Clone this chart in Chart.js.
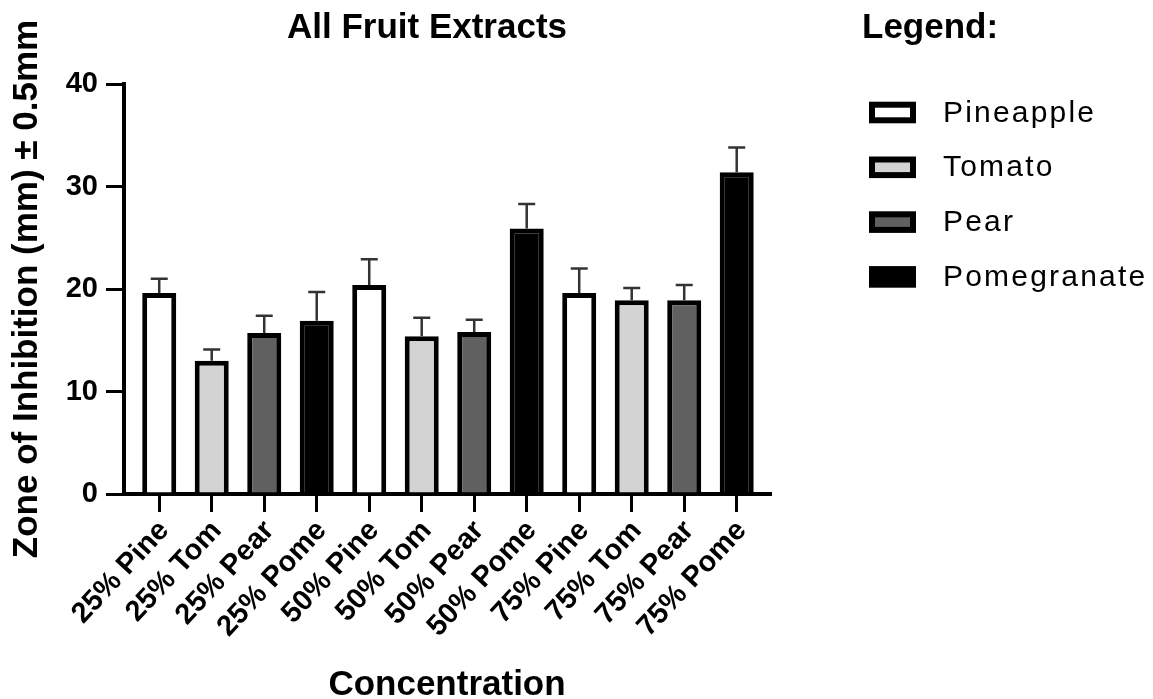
<!DOCTYPE html>
<html><head><meta charset="utf-8">
<script src="https://cdn.jsdelivr.net/npm/chart.js@4.4.0/dist/chart.umd.min.js"></script>
<style>html,body{margin:0;padding:0;background:#fff;} #wrap{width:1153px;height:699px;}</style>
</head><body><div id="wrap"><canvas id="c" width="1153" height="699"></canvas></div>
<script>
// ---- data ----
const categories = ['25% Pine','25% Tom','25% Pear','25% Pome','50% Pine','50% Tom','50% Pear','50% Pome','75% Pine','75% Tom','75% Pear','75% Pome'];
const fruits = ['Pineapple','Tomato','Pear','Pomegranate'];
const fruitOfBar = [0,1,2,3,0,1,2,3,0,1,2,3];
const values = [19.6, 13.0, 15.7, 16.9, 20.4, 15.4, 15.8, 25.9, 19.6, 18.9, 18.9, 31.4];
const errors = [1.4, 1.1, 1.7, 2.8, 2.5, 1.8, 1.2, 2.4, 2.4, 1.2, 1.5, 2.4];
const yTickValues = [0, 10, 20, 30, 40];
const titleText = 'All Fruit Extracts';
const legendTitle = 'Legend:';
const xTitle = 'Concentration';
const yTitle = 'Zone of Inhibition (mm) \u00b1 0.5mm';

// ---- styles ----
const fruitColors = ['#ffffff', '#d3d3d3', '#606060', '#000000'];
const FONT = '"Liberation Sans", Arial, Helvetica, sans-serif';

Chart.defaults.color = '#000';
Chart.defaults.font.family = FONT;

const points = values.map((v, i) => ({x: i, y: v}));

const errorBarPlugin = {
  id: 'errorBars',
  afterDatasetsDraw(chart) {
    const meta = chart.getDatasetMeta(0);
    const ys = chart.scales.y;
    const ctx = chart.ctx;
    ctx.save();
    ctx.strokeStyle = '#333';
    ctx.lineWidth = 2.5;
    ctx.lineCap = 'butt';
    meta.data.forEach((bar, i) => {
      const top = ys.getPixelForValue(values[i] + errors[i]);
      ctx.beginPath();
      ctx.moveTo(bar.x, bar.y);
      ctx.lineTo(bar.x, top);
      ctx.moveTo(bar.x - 8.5, top);
      ctx.lineTo(bar.x + 8.5, top);
      ctx.stroke();
    });
    ctx.restore();
  }
};

const overlayPlugin = {
  id: 'overlay',
  afterDraw(chart) {
    const ctx = chart.ctx;
    ctx.save();
    ctx.fillStyle = '#000';
    ctx.textBaseline = 'alphabetic';
    ctx.font = 'bold 35px ' + FONT;
    ctx.textAlign = 'center';
    ctx.fillText(titleText, 427, 38);
    ctx.textAlign = 'left';
    ctx.fillText(legendTitle, 862, 38);
    ctx.font = '30px ' + FONT;
    try { ctx.letterSpacing = '2.2px'; } catch (e) {}
    fruits.forEach((f, i) => {
      const cy = 112.5 + 54.8 * i;
      ctx.fillStyle = fruitColors[i];
      ctx.fillRect(872, cy - 7.8, 41, 15.6);
      ctx.lineWidth = 6;
      ctx.strokeStyle = '#000';
      ctx.strokeRect(872, cy - 7.8, 41, 15.6);
      ctx.fillStyle = '#000';
      ctx.fillText(f, 943, cy + 9);
    });
    ctx.restore();
  }
};

new Chart(document.getElementById('c'), {
  type: 'bar',
  data: {
    datasets: [{
      data: points,
      backgroundColor: fruitOfBar.map(k => fruitColors[k]),
      borderColor: '#000',
      borderWidth: 5,
      borderSkipped: 'start',
      barPercentage: 0.648,
      categoryPercentage: 1.0
    }]
  },
  options: {
    responsive: false,
    animation: false,
    devicePixelRatio: 1,
    layout: {padding: {left: 0, top: 84, right: 383, bottom: 0}},
    plugins: {legend: {display: false}, title: {display: false}, tooltip: {enabled: false}},
    scales: {
      x: {
        type: 'linear',
        offset: false,
        min: -0.671,
        max: 11.634,
        grid: {display: true, offset: false, drawOnChartArea: false, drawTicks: true, tickLength: 18, lineWidth: 3, color: '#000'},
        border: {display: true, width: 4, color: '#000'},
        ticks: {
          stepSize: 1,
          includeBounds: false,
          autoSkip: false,
          maxRotation: 47,
          minRotation: 47,
          padding: 2,
          labelOffset: 5,
          font: {size: 29, weight: 'bold'},
          callback: (v) => (Number.isInteger(v) && categories[v] !== undefined) ? categories[v] : ''
        },
        title: {display: true, text: xTitle, font: {size: 35, weight: 'bold', lineHeight: 0.8}, padding: {top: 0, bottom: 0}},
        afterFit: (s) => { s.height = 205; }
      },
      y: {
        min: 0,
        max: 40,
        grid: {display: true, drawOnChartArea: false, drawTicks: true, tickLength: 18, lineWidth: 3, color: '#000'},
        border: {display: true, width: 4, color: '#000'},
        afterBuildTicks: (s) => { s.ticks = yTickValues.map(v => ({value: v})); },
        ticks: {padding: 8, font: {size: 29, weight: 'bold'}},
        title: {display: true, text: yTitle, font: {size: 35, weight: 'bold', lineHeight: 0.8}, padding: {top: 13, bottom: 0}},
        afterFit: (s) => { s.width = 124; }
      }
    }
  },
  plugins: [errorBarPlugin, overlayPlugin]
});
</script>
</body></html>
